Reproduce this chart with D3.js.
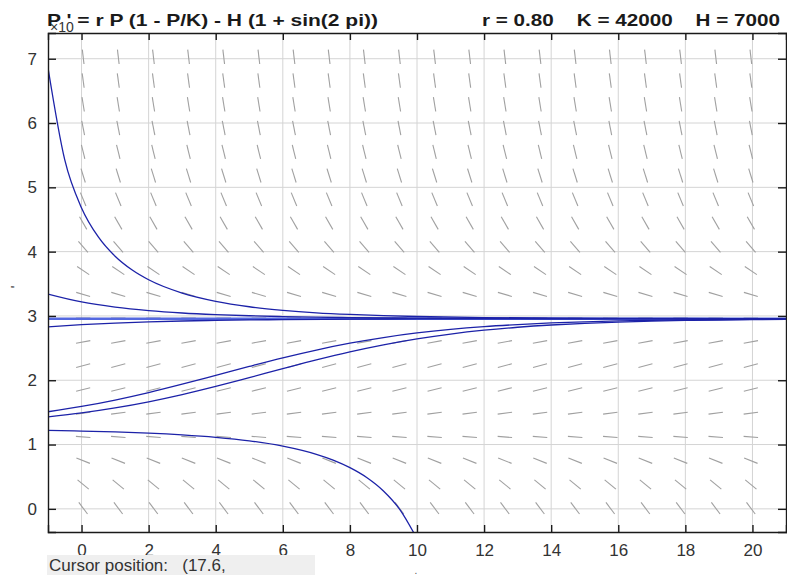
<!DOCTYPE html>
<html><head><meta charset="utf-8">
<script src="https://cdn.jsdelivr.net/npm/d3@7"></script>
<style>
html,body{margin:0;padding:0;background:#fff;}
svg{display:block;font-family:"Liberation Sans",Arial,sans-serif;}
text{white-space:pre;}
</style></head>
<body>
<svg id="chart" width="787" height="575"></svg>
<script>
// ---- data (P in units of 10^4) ----
const xTicks = [0, 2, 4, 6, 8, 10, 12, 14, 16, 18, 20];
const yTicks = [0, 1, 2, 3, 4, 5, 6, 7];
const fieldT = [0.048, 1.095, 2.143, 3.190, 4.238, 5.286, 6.333, 7.381, 8.429, 9.476,
                10.524, 11.571, 12.619, 13.667, 14.714, 15.762, 16.810, 17.857, 18.905, 19.952];
const fieldP = [0.010, 0.379, 0.749, 1.118, 1.488, 1.857, 2.227, 2.596, 2.966, 3.335,
                3.705, 4.074, 4.444, 4.813, 5.183, 5.552, 5.922, 6.291, 6.661, 7.030];
const fieldSlope = [-0.692, -0.424, -0.208, -0.044, 0.069, 0.129, 0.137, 0.093, -0.003, -0.151,
                    -0.351, -0.602, -0.906, -1.262, -1.670, -2.130, -2.642, -3.206, -3.822, -4.490];
const equilibrium = 2.957;
const curveT1 = [-1, -0.5, 0, 0.5, 1, 1.5, 2, 3, 4, 5, 6, 7, 8, 9, 10, 12, 14, 16, 18, 21];
const curveP1 = [6.860, 5.426, 4.680, 4.228, 3.928, 3.717, 3.562, 3.355, 3.227, 3.143, 3.088, 3.049, 3.023, 3.004, 2.991, 2.975, 2.966, 2.962, 2.960, 2.958];
const curveT2 = [-1, 0, 1, 2, 3, 4, 5, 6, 7, 8, 10, 12, 14, 16, 21];
const curveP2 = [3.340, 3.217, 3.137, 3.083, 3.046, 3.021, 3.003, 2.990, 2.981, 2.974, 2.966, 2.962, 2.960, 2.958, 2.957];
const curveT3 = [-1, 0, 1, 2, 3, 4, 5, 6, 8, 10, 12, 15, 21];
const curveP3 = [2.830, 2.864, 2.889, 2.907, 2.921, 2.931, 2.938, 2.943, 2.950, 2.9535, 2.9553, 2.9566, 2.9572];
const curveT4 = [-1, 0, 1, 2, 3, 4, 5, 6, 7, 8, 9, 10, 11, 12, 13, 14, 15, 16, 17, 18, 19, 20, 21];
const curveP4 = [1.510, 1.592, 1.692, 1.808, 1.938, 2.076, 2.215, 2.349, 2.470, 2.576, 2.664, 2.735, 2.791, 2.834, 2.866, 2.891, 2.909, 2.922, 2.932, 2.939, 2.944, 2.948, 2.950];
const curveT5 = [-1, 0, 1, 2, 3, 4, 5, 6, 7, 8, 9, 10, 11, 12, 13, 14, 15, 16, 17, 18, 19, 20, 21];
const curveP5 = [1.430, 1.492, 1.570, 1.665, 1.777, 1.904, 2.041, 2.180, 2.316, 2.441, 2.550, 2.643, 2.718, 2.778, 2.824, 2.859, 2.885, 2.905, 2.919, 2.930, 2.937, 2.943, 2.947];
const curveT6 = [-1, 0, 1, 2, 3, 4, 5, 6, 7, 7.5, 8, 8.5, 9, 9.5, 10];
const curveP6 = [1.219, 1.209, 1.196, 1.178, 1.151, 1.113, 1.058, 0.975, 0.848, 0.758, 0.641, 0.488, 0.278, -0.019, -0.465];

const titleLeft = "P ' = r P (1 - P/K) - H (1 + sin(2 pi))";
const titleRight = "r = 0.80    K = 42000    H = 7000";
const cursorText = "Cursor position:   (17.6,";

// ---- layout ----
const svg = d3.select("#chart");
const L = 48, R = 786, T = 33, B = 532;
const x = d3.scaleLinear().domain([-1, 21]).range([L, R]);
const y = d3.scaleLinear().domain([-0.36, 7.40]).range([B, T]);

svg.append("defs").append("clipPath").attr("id", "clip")
  .append("rect").attr("x", L).attr("y", T).attr("width", R - L).attr("height", B - T);

// grid
const grid = svg.append("g").attr("stroke", "#d4d4d4").attr("stroke-width", 1);
xTicks.forEach(v => grid.append("line").attr("x1", x(v)).attr("x2", x(v)).attr("y1", T).attr("y2", B));
yTicks.forEach(v => grid.append("line").attr("x1", L).attr("x2", R).attr("y1", y(v)).attr("y2", y(v)));

// direction field
const field = svg.append("g").attr("clip-path", "url(#clip)")
  .attr("stroke", "#a0a0a0").attr("stroke-width", 1.1);
const segLen = 14.5;
fieldP.forEach((p, i) => {
  const s = fieldSlope[i];
  fieldT.forEach(t => {
    const cx = x(t), cy = y(p);
    const dx = x(t + 1) - x(t), dy = y(p + s) - y(p);
    const n = Math.hypot(dx, dy);
    const ux = dx / n * segLen / 2, uy = dy / n * segLen / 2;
    field.append("line").attr("x1", cx - ux).attr("y1", cy - uy).attr("x2", cx + ux).attr("y2", cy + uy);
  });
});

// solution curves
const plot = svg.append("g").attr("clip-path", "url(#clip)");
plot.append("line").attr("x1", L).attr("x2", R).attr("y1", y(equilibrium)).attr("y2", y(equilibrium))
  .attr("stroke", "#5468e0").attr("stroke-width", 2.6);
const line = d3.line().x(d => x(d[0])).y(d => y(d[1])).curve(d3.curveMonotoneX);
[[curveT1, curveP1], [curveT2, curveP2], [curveT3, curveP3], [curveT4, curveP4], [curveT5, curveP5], [curveT6, curveP6]]
  .forEach(([ts, ps]) => {
    plot.append("path").datum(ts.map((t, i) => [t, ps[i]]))
      .attr("d", line).attr("fill", "none").attr("stroke", "#1c22a8").attr("stroke-width", 1.3);
  });

// axes
const axCol = "#1a1a1a";
const axB = svg.append("g").attr("transform", `translate(0,${B})`)
  .call(d3.axisBottom(x).tickValues(xTicks).tickSize(-7).tickPadding(12).tickFormat(d3.format("d")));
const axT = svg.append("g").attr("transform", `translate(0,${T})`)
  .call(d3.axisTop(x).tickValues(xTicks).tickSize(-7).tickFormat(""));
const axL = svg.append("g").attr("transform", `translate(${L},0)`)
  .call(d3.axisLeft(y).tickValues(yTicks).tickSize(-8).tickPadding(11).tickFormat(d3.format("d")));
const axR = svg.append("g").attr("transform", `translate(${R},0)`)
  .call(d3.axisRight(y).tickValues(yTicks).tickSize(-8).tickFormat(""));
[axB, axT, axL, axR].forEach(g => {
  g.select(".domain").attr("stroke", axCol).attr("stroke-width", 1.4);
  g.selectAll(".tick line").attr("stroke", axCol).attr("stroke-width", 1.4);
  g.selectAll("text").attr("fill", "#333").attr("font-size", 17)
    .attr("font-family", "'Liberation Sans', Arial, sans-serif");
});

// exponent label
svg.append("text").attr("x", 50).attr("y", 32).attr("font-size", 14).attr("fill", "#333").text("×10");

// titles
svg.append("text").attr("x", 47).attr("y", 26).attr("font-size", 17).attr("font-weight", "bold")
  .attr("textLength", 331).attr("lengthAdjust", "spacingAndGlyphs")
  .attr("fill", "#1a1a1a").text(titleLeft);
svg.append("text").attr("x", 482).attr("y", 26).attr("font-size", 17).attr("font-weight", "bold")
  .attr("textLength", 298).attr("lengthAdjust", "spacingAndGlyphs")
  .attr("fill", "#1a1a1a").text(titleRight);

// y label remnant
svg.append("text").attr("transform", "translate(21,287) rotate(-90)").attr("font-size", 14)
  .attr("text-anchor", "middle").attr("fill", "#333").text("'");

// cursor box
svg.append("rect").attr("x", 47).attr("y", 555).attr("width", 268).attr("height", 20).attr("fill", "#efefef");
svg.append("text").attr("x", 49).attr("y", 571).attr("font-size", 17).attr("fill", "#333").text(cursorText);
svg.append("text").attr("x", 416).attr("y", 574).attr("font-size", 10).attr("fill", "#555").attr("text-anchor", "middle").text(".");
</script>
</body></html>
